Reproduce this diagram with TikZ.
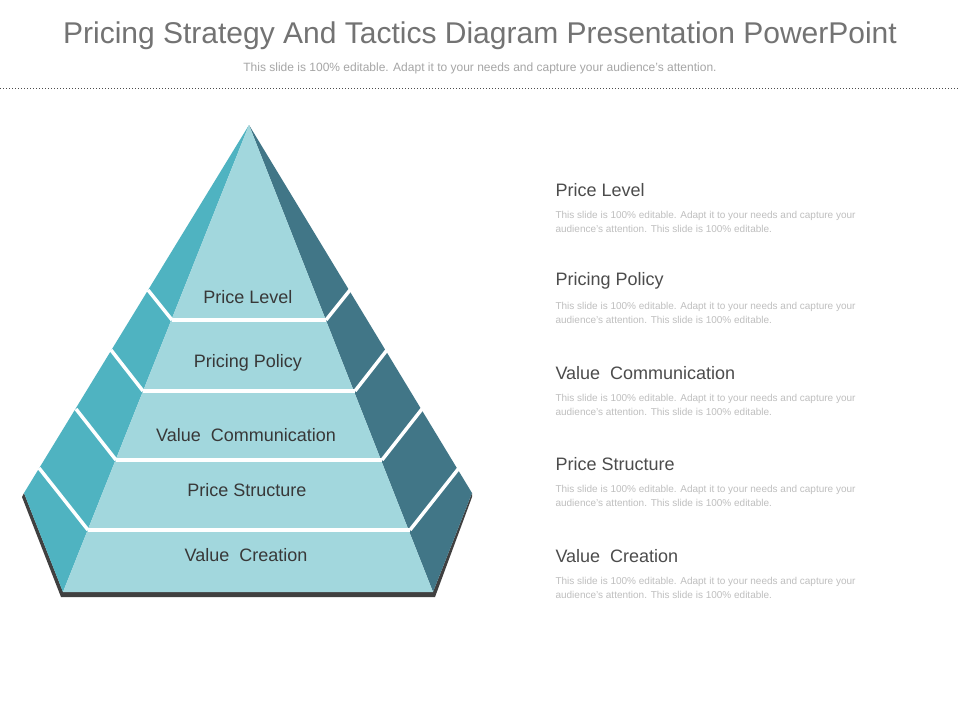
\documentclass[tikz,border=0pt]{standalone}
\usepackage{fontspec}
\setmainfont{Liberation Sans}
\begin{document}
\begin{tikzpicture}[x=1pt,y=-1pt,
  lab/.style={text=black!78,font=\fontsize{18}{20}\selectfont},
  head/.style={anchor=west,text=black!70,font=\fontsize{18}{20}\selectfont},
  desc/.style={anchor=north west,text=black!25,align=left,font=\fontsize{10}{14}\selectfont},
  sep/.style={white,line width=3.5pt}]
\definecolor{lside}{HTML}{4FB3C1}
\definecolor{rside}{HTML}{417687}
\definecolor{front}{HTML}{A2D7DD}
\useasboundingbox (0,0) rectangle (960,720);
\fill[white] (0,0) rectangle (960,720);
\node (title) at (480,36) {\fontsize{30}{32}\selectfont\color{black!55}Pricing Strategy And Tactics Diagram Presentation PowerPoint};
\node (sub) at (480,68) {\fontsize{12}{14}\selectfont\color{black!35}This slide is 100\% editable. Adapt it to your needs and capture your audience's attention.};
\draw[black!70,line width=1pt,dotted] (0,88) -- (960,88);
% pyramid
\coordinate (A) at (249,125);
\coordinate (L) at (24,493); \coordinate (R) at (472,493);
\coordinate (BL) at (63,592); \coordinate (BR) at (433,592);
\fill[black!75] (22,497) -- (61,597) -- (435,597) -- (472,497) -- (472,493) -- (433,592) -- (63,592) -- (24,493) -- cycle;
\fill[lside] (A) -- (L) -- (BL) -- cycle;
\fill[rside] (A) -- (R) -- (BR) -- cycle;
\fill[front] (A) -- (BL) -- (BR) -- cycle;
\foreach \y/\fx/\ox/\oy in {320/172/148/290, 391/143/111/350, 460/116/76/409, 530/88/39/468}{
  \draw[sep] (\fx,\y) -- (498-\fx,\y);
  \draw[sep] (\fx,\y) -- (\ox,\oy);
  \draw[sep] (498-\fx,\y) -- (498-\ox,\oy);
}
\node[lab] (l1) at (248,297) {Price Level};
\node[lab] (l2) at (248,363) {Pricing Policy};
\node[lab] (l3) at (246,435) {Value\ \ Communication};
\node[lab] (l4) at (247,490) {Price Structure};
\node[lab] (l5) at (246,555) {Value\ \ Creation};
\foreach \n/\y/\t in {1/190/Price Level, 2/281/Pricing Policy, 3/373/Value\ \ Communication, 4/464/Price Structure, 5/556/Value\ \ Creation}{
  \node[head] (h\n) at (552,\y) {\t};
  \node[desc] (d\n) at (552,\y+18) {This slide is 100\% editable. Adapt it to your needs and capture your\\audience's attention. This slide is 100\% editable.};
}
\end{tikzpicture}
\end{document}
